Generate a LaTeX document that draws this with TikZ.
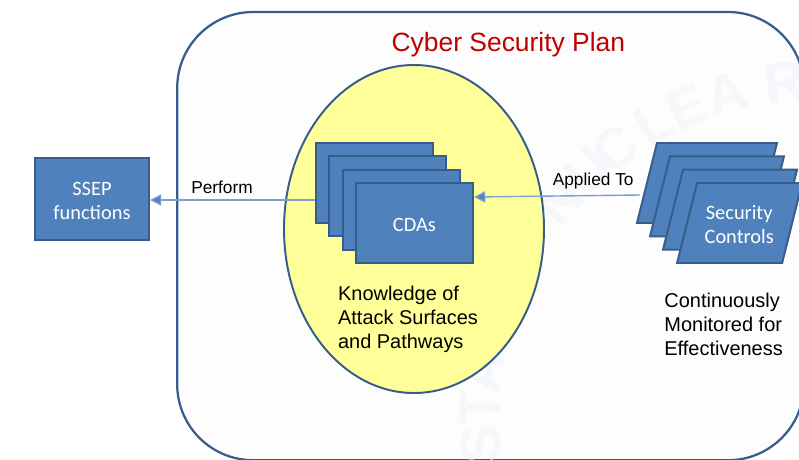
\documentclass[tikz,border=0pt]{standalone}
\usepackage{fontspec}
\setmainfont{Liberation Sans}
\newfontfamily\boxfont{Carlito}
\usetikzlibrary{arrows.meta,shapes.geometric}
\definecolor{planblue}{HTML}{385D8A}
\definecolor{planfill}{HTML}{FDFDFE}
\definecolor{sealgrey}{HTML}{F5F7FA}
\definecolor{boxblue}{HTML}{4F81BD}
\definecolor{linkblue}{HTML}{7AA0CD}
\definecolor{knowyellow}{HTML}{FFFF99}
\definecolor{plantitle}{HTML}{C00000}
\begin{document}
\begin{tikzpicture}[
    plan/.style={draw=planblue, fill=planfill, line width=1.6pt, rounded corners=1.9cm},
    seal/.style={text=sealgrey, font=\bfseries\fontsize{40}{40}\selectfont},
    know/.style={ellipse, draw=planblue, line width=1.4pt, fill=knowyellow,
        minimum width=6.5cm, minimum height=8.2cm},
    bluebox/.style={draw=planblue, line width=1.4pt, fill=boxblue,
        minimum width=2.93cm, minimum height=2cm, inner sep=0pt},
    ctrlbox/.style={bluebox, xslant=0.25, transform shape},
    boxtext/.style={text=white, font=\boxfont\fontsize{14.5}{17}\selectfont, align=center},
    label/.style={text=black, font=\fontsize{14.2}{17}\selectfont, align=left},
    linklabel/.style={text=black, font=\fontsize{12.3}{15}\selectfont},
    link/.style={draw=linkblue, line width=1pt, -{Triangle[length=8pt,width=8pt,fill=boxblue]}}
]
    \useasboundingbox (0,0) rectangle (19.975,11.475);
    \clip (0,0) rectangle (19.975,11.475);
    \draw[plan] (4.43,-0.03) rectangle (20.1,11.175);
    % seal behind the plan
    \coordinate (sealc) at (20.5,0.975);
    \foreach \ch/\ang in {S/94,T/88,A/82,N/50,U/43,C/37,L/29.3,E/23,A/16,R/6}
        \node[seal, rotate=\ang] at ([shift={(90+\ang:8.5)}]sealc) {\ch};
    \node[plantitle, font=\fontsize{18.8}{22}\selectfont] (title) at (12.71,10.35) {Cyber Security Plan};
    \node[know] (knowledge) at (10.35,5.75) {};
    % CDAs stack
    \node[bluebox] (cda1) at (9.36,6.9) {};
    \node[bluebox] (cda2) at (9.695,6.567) {};
    \node[bluebox] (cda3) at (10.03,6.233) {};
    \node[bluebox] (cda4) at (10.36,5.9) {};
    \node[boxtext] (cdatext) at (10.36,5.85) {CDAs};
    % controls stack
    \node[ctrlbox, minimum width=3cm] (ctrl1) at (17.675,6.9) {};
    \node[ctrlbox, minimum width=2.85cm] (ctrl2) at (17.925,6.567) {};
    \node[ctrlbox, minimum width=2.85cm] (ctrl3) at (18.25,6.233) {};
    \node[ctrlbox, minimum width=2.625cm] (ctrl4) at (18.49,5.9) {};
    \node[boxtext] (ctrltext) at (18.48,5.85) {Security\\Controls};
    \node[bluebox, minimum width=2.85cm, minimum height=2.03cm] (ssep) at (2.3,6.5) {};
    \node[boxtext] (sseptext) at (2.3,6.46) {SSEP\\functions};
    \coordinate (performy) at (0,6.475);
    \coordinate (appliedy) at (0,6.55);
    \coordinate (appliedin) at (16,6.6);
    \draw[link] (cda1.west |- performy) -- (ssep.east |- performy);
    \draw[link] (appliedin) -- (cda4.east |- appliedy);
    \node[linklabel] (perform) at (5.55,6.8) {Perform};
    \node[linklabel] (applied) at (14.83,6.95) {Applied To};
    \node[label] (attack) at (10.2,3.5) {Knowledge of\\Attack Surfaces\\and Pathways};
    \node[label] (monitored) at (18.09,3.37) {Continuously\\Monitored for\\Effectiveness};
\end{tikzpicture}
\end{document}
